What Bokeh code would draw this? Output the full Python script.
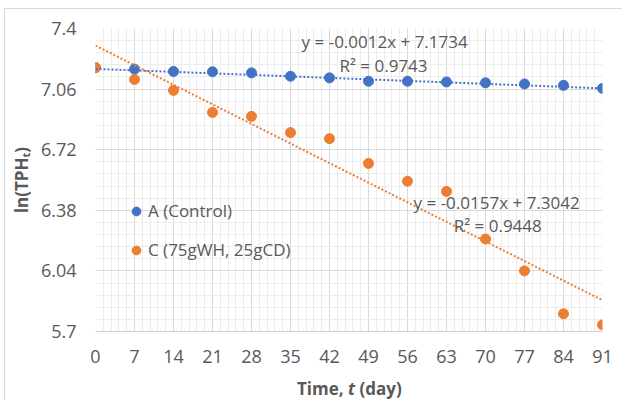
from bokeh.plotting import figure
from bokeh.layouts import column
from bokeh.models import FixedTicker, Label, Legend, LegendItem, Range1d, Div
from bokeh.embed import file_html
from bokeh.resources import INLINE

# ---- data ----
days = [0, 7, 14, 21, 28, 35, 42, 49, 56, 63, 70, 77, 84, 91]
series_a = [7.180, 7.172, 7.159, 7.157, 7.151, 7.132, 7.123, 7.104, 7.104, 7.100, 7.095, 7.089, 7.081, 7.064]
series_c = [7.180, 7.114, 7.053, 6.929, 6.907, 6.816, 6.782, 6.643, 6.543, 6.486, 6.219, 6.040, 5.799, 5.737]
name_a = "A (Control)"
name_c = "C (75gWH, 25gCD)"
slope_a, icpt_a, r2_a = -0.0012, 7.1734, 0.9743
slope_c, icpt_c, r2_c = -0.0157, 7.3042, 0.9448
x_ticks = [0, 7, 14, 21, 28, 35, 42, 49, 56, 63, 70, 77, 84, 91]
y_ticks = [5.7, 6.04, 6.38, 6.72, 7.06, 7.4]
y_tick_labels = ["5.7", "6.04", "6.38", "6.72", "7.06", "7.4"]
x_title = ("Time, ", "t", " (day)")
y_title = "ln(TPHₜ)"

BLUE = "#4472C4"
ORANGE = "#ED7D31"
TXT = "#595959"
FONT = "Open Sans"
FS = "17px"
FS_TICK = "18px"

p = figure(width=617, height=369, output_backend="svg", toolbar_location=None,
           x_range=Range1d(0, 91), y_range=Range1d(5.7, 7.4),
           min_border_left=90, min_border_right=20, min_border_top=19, min_border_bottom=47)
p.outline_line_color = None

x_minor = [x_ticks[i] + (x_ticks[i + 1] - x_ticks[i]) * k / 5 for i in range(len(x_ticks) - 1) for k in range(1, 5)]
y_minor = [y_ticks[i] + (y_ticks[i + 1] - y_ticks[i]) * k / 5 for i in range(len(y_ticks) - 1) for k in range(1, 5)]
p.xaxis.ticker = FixedTicker(ticks=x_ticks, minor_ticks=x_minor)
p.yaxis.ticker = FixedTicker(ticks=y_ticks, minor_ticks=y_minor)
p.yaxis.major_label_overrides = {t: l for t, l in zip(y_ticks, y_tick_labels)}

for ax in (p.xaxis, p.yaxis):
    ax.major_tick_line_color = None
    ax.minor_tick_line_color = None
    ax.major_tick_out = 0
    ax.minor_tick_out = 0
    ax.major_tick_in = 0
    ax.minor_tick_in = 0
    ax.major_label_text_font = FONT
    ax.major_label_text_font_size = FS_TICK
    ax.major_label_text_color = TXT
    ax.axis_line_color = "#cfcfcf"
p.yaxis.axis_line_color = None
p.xaxis.major_label_standoff = 18
p.yaxis.major_label_standoff = 19

p.yaxis.axis_label = y_title
p.yaxis.axis_label_text_font = FONT
p.yaxis.axis_label_text_font_style = "bold"
p.yaxis.axis_label_text_font_size = FS
p.yaxis.axis_label_text_color = TXT
p.yaxis.axis_label_standoff = 5

p.xgrid.grid_line_color = "#d9d9d9"
p.ygrid.grid_line_color = "#d9d9d9"
p.xgrid.minor_grid_line_color = "#ececec"
p.ygrid.minor_grid_line_color = "#ececec"

ra = p.scatter(days, series_a, size=10, color=BLUE)
rc = p.scatter(days, series_c, size=10, color=ORANGE)

tx = [x_ticks[0], x_ticks[-1]]
p.line(tx, [icpt_a + slope_a * x for x in tx], line_color=BLUE, line_width=2, line_dash="2 2")
p.line(tx, [icpt_c + slope_c * x for x in tx], line_color=ORANGE, line_width=2, line_dash="2 2")

legend = Legend(items=[LegendItem(label=name_a, renderers=[ra]), LegendItem(label=name_c, renderers=[rc])],
                location=(30, 70), padding=0, margin=0, spacing=16,
                glyph_width=22, glyph_height=22, label_height=20, label_standoff=1,
                label_text_font=FONT, label_text_font_size=FS, label_text_color=TXT,
                background_fill_alpha=0, border_line_color=None)
p.add_layout(legend, "center")

def lab(x, y, text):
    p.add_layout(Label(x=x, y=y, text=text, text_align="center", text_baseline="middle",
                       text_font=FONT, text_font_size=FS, text_color=TXT))

lab(51.9, 7.326, f"y = {slope_a:.4f}x + {icpt_a:.4f}")
lab(51.7, 7.195, f"R² = {r2_a:.4f}")
lab(72.0, 6.421, f"y = {slope_c:.4f}x + {icpt_c:.4f}")
lab(72.2, 6.295, f"R² = {r2_c:.4f}")

title_div = Div(text=f"<b>{x_title[0]}<i>{x_title[1]}</i>{x_title[2]}</b>", width=617, height=22, margin=0,
                styles={"font-family": FONT, "font-size": FS, "color": TXT, "line-height": "22px",
                        "padding-left": "292px", "white-space": "nowrap"})

layout = column(p, title_div, spacing=0, margin=(8, 0, 0, 4),
                styles={"border-top": "1px solid #d9d9d9", "border-left": "1px solid #d9d9d9"})

open("out.html", "w").write(file_html(layout, INLINE))
